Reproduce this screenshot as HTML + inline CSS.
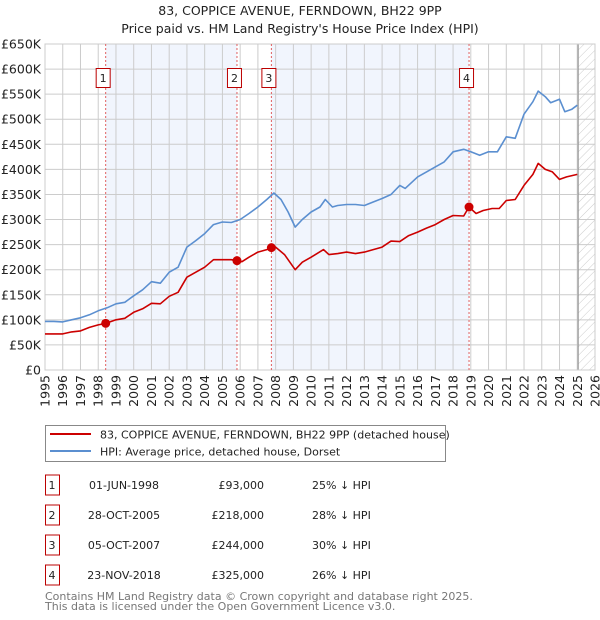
<!DOCTYPE html>
<html><head><meta charset="utf-8"><style>
body{margin:0;background:#fff;font-family:"DejaVu Sans","Liberation Sans",sans-serif;}
svg{display:block}
</style></head><body>
<svg id="chart" width="600" height="620" viewBox="0 0 600 620" xmlns="http://www.w3.org/2000/svg" font-family="DejaVu Sans, Liberation Sans, sans-serif">
<text x="300" y="15" text-anchor="middle" font-size="12.5" fill="#222">83, COPPICE AVENUE, FERNDOWN, BH22 9PP</text>
<text x="300" y="33" text-anchor="middle" font-size="12.5" fill="#222">Price paid vs. HM Land Registry's House Price Index (HPI)</text>
<g id="plot"></g>
<g>
<rect x="45.5" y="425.5" width="400" height="36" fill="#fff" stroke="#888"/>
<line x1="50" y1="434" x2="91" y2="434" stroke="#cc0000" stroke-width="2"/>
<text x="100" y="438.5" font-size="11" fill="#222">83, COPPICE AVENUE, FERNDOWN, BH22 9PP (detached house)</text>
<line x1="50" y1="451" x2="91" y2="451" stroke="#5b8fd0" stroke-width="2"/>
<text x="100" y="455.5" font-size="11" fill="#222">HPI: Average price, detached house, Dorset</text>
</g>
<g id="table"></g>
<text x="45" y="600" font-size="11" fill="#777">Contains HM Land Registry data © Crown copyright and database right 2025.</text>
<text x="45" y="610" font-size="11" fill="#777">This data is licensed under the Open Government Licence v3.0.</text>
</svg>
<script>
const hpiYears=[1995,1995.5,1996,1996.5,1997,1997.5,1998,1998.5,1999,1999.5,2000,2000.5,2001,2001.5,2002,2002.5,2003,2003.5,2004,2004.5,2005,2005.5,2006,2006.5,2007,2007.5,2007.9,2008.3,2008.7,2009.1,2009.5,2010,2010.5,2010.8,2011.2,2011.5,2012,2012.5,2013,2013.5,2014,2014.5,2015,2015.3,2016,2016.5,2017,2017.5,2018,2018.6,2019,2019.5,2020,2020.5,2021,2021.5,2022,2022.5,2022.8,2023.2,2023.5,2024,2024.3,2024.7,2025];
const hpiValues=[97,97,96,100,104,110,118,124,132,135,148,160,176,173,195,205,245,258,272,290,295,294,300,312,325,340,353,340,315,285,300,315,325,340,325,328,330,330,328,335,342,350,368,362,385,395,405,415,435,440,435,428,435,435,465,462,510,535,556,545,533,540,515,520,528];
const priceYears=[1995,1996,1996.5,1997,1997.5,1998,1998.42,1999,1999.5,2000,2000.5,2001,2001.5,2002,2002.5,2003,2003.5,2004,2004.5,2005,2005.5,2005.82,2006.1,2006.5,2007,2007.5,2007.76,2008,2008.5,2009,2009.1,2009.5,2010,2010.7,2011,2011.5,2012,2012.5,2013,2013.5,2014,2014.5,2015,2015.5,2016,2016.5,2017,2017.5,2018,2018.6,2018.9,2019.3,2019.7,2020.2,2020.6,2021,2021.5,2022,2022.5,2022.8,2023.2,2023.6,2024,2024.4,2025];
const priceValues=[72,72,76,78,85,90,93,100,103,115,122,133,132,147,155,185,195,205,220,220,220,218,216,225,235,240,244,245,230,205,200,215,225,240,230,232,235,232,235,240,245,257,256,268,275,283,290,300,308,307,325,312,318,322,322,338,340,368,390,412,400,395,380,385,390];
const saleYears=[1998.42,2005.82,2007.76,2018.9];
const saleValues=[93,218,244,325];
const saleLabels=["1","2","3","4"];
const saleDates=["01-JUN-1998","28-OCT-2005","05-OCT-2007","23-NOV-2018"];
const salePrices=["£93,000","£218,000","£244,000","£325,000"];
const saleDiffs=["25% ↓ HPI","28% ↓ HPI","30% ↓ HPI","26% ↓ HPI"];
const yTicks=[0,50,100,150,200,250,300,350,400,450,500,550,600,650];
const xTicks=[1995,1996,1997,1998,1999,2000,2001,2002,2003,2004,2005,2006,2007,2008,2009,2010,2011,2012,2013,2014,2015,2016,2017,2018,2019,2020,2021,2022,2023,2024,2025,2026];

const NS="http://www.w3.org/2000/svg";
const L=45,R=595,T=44,B=370,X0=1995,X1=2026,YMAX=650;
const x=v=>L+(v-X0)/(X1-X0)*(R-L);
const y=v=>B-v/YMAX*(B-T);
const plot=document.getElementById('plot');
function mk(tag,attrs,parent){const e=document.createElementNS(NS,tag);for(const k in attrs)e.setAttribute(k,attrs[k]);(parent||plot).appendChild(e);return e;}

let s=mk('rect',{x:x(saleYears[0]),y:T,width:x(saleYears[1])-x(saleYears[0]),height:B-T,fill:'#eef3fc',opacity:0.8});


s=mk('rect',{x:x(saleYears[2]),y:T,width:x(saleYears[3])-x(saleYears[2]),height:B-T,fill:'#eef3fc',opacity:0.8});


const defs=mk('defs',{});
const pat=mk('pattern',{id:'hatch',width:6,height:6,patternUnits:'userSpaceOnUse',patternTransform:'rotate(45)'},defs);
mk('line',{x1:0,y1:0,x2:0,y2:6,stroke:'#ccc','stroke-width':1},pat);
let h=mk('rect',{x:x(2025.05),y:T,width:R-x(2025.05),height:B-T,fill:'url(#hatch)'});


for(const t of yTicks){
 let g=mk('line',{x1:L,x2:R,y1:y(t),y2:y(t),stroke:'#ccc','stroke-width':1});
 
 
 let tx=mk('text',{x:L-4,y:y(t)+4.5,'text-anchor':'end','font-size':'12.5',fill:'#222'});
 tx.textContent=t===0?'£0':'£'+t+'K';
 
 
}
for(const t of xTicks){
 let g=mk('line',{x1:x(t),x2:x(t),y1:T,y2:B,stroke:'#ccc','stroke-width':1});
 
 
 let tx=mk('text',{x:0,y:0,'text-anchor':'end','font-size':'12.5',fill:'#222',transform:`translate(${x(t)+4.5},${B+5}) rotate(-90)`});
 tx.textContent=t;
 
 
}
let lf=mk('line',{x1:x(2025.05),x2:x(2025.05),y1:T,y2:B,stroke:'#999','stroke-width':1.2});


let fr=mk('rect',{x:L,y:T,width:R-L,height:B-T,fill:'none',stroke:'#ccc'});


saleYears.forEach((yr,i)=>{
 let v=mk('line',{x1:x(yr),x2:x(yr),y1:T,y2:B,stroke:'#e06060','stroke-width':1,'stroke-dasharray':'2,2'});
 
 
 let bx=mk('rect',{x:x(yr)-9.5,y:68.5,width:14,height:19,fill:'#fff',stroke:'#b00'});
 
 
 let t=mk('text',{x:x(yr)-2.5,y:82,'text-anchor':'middle','font-size':'11',fill:'#222'});
 t.textContent=saleLabels[i];
 
 
});
const pts=(xs,vs)=>xs.map((a,i)=>x(a).toFixed(1)+','+y(vs[i]).toFixed(1)).join(' ');
let hl=mk('polyline',{points:pts(hpiYears,hpiValues),fill:'none',stroke:'#5b8fd0','stroke-width':1.6,'stroke-linejoin':'round'});


let pl=mk('polyline',{points:pts(priceYears,priceValues),fill:'none',stroke:'#cc0000','stroke-width':1.6,'stroke-linejoin':'round'});


saleYears.forEach((yr,i)=>{
 let c=mk('circle',{cx:x(yr),cy:y(saleValues[i]),r:4.5,fill:'#cc0000'});
 
 
});
const tb=document.getElementById('table');
saleLabels.forEach((lab,i)=>{
 const cy=485+i*30;
 let b=mk('rect',{x:45.5,y:cy-10,width:14,height:20,fill:'#fff',stroke:'#b00'},tb);
 
 
 const cells=[[52,lab,'middle'],[124,saleDates[i],'middle'],[264,salePrices[i],'end'],[312,saleDiffs[i],'start']];
 cells.forEach(([cx,txt,an])=>{
  let t=mk('text',{x:cx,y:cy+4,'text-anchor':an,'font-size':'11',fill:'#222'},tb);
  t.textContent=txt;
  
  
 });
});
</script>
</body></html>
